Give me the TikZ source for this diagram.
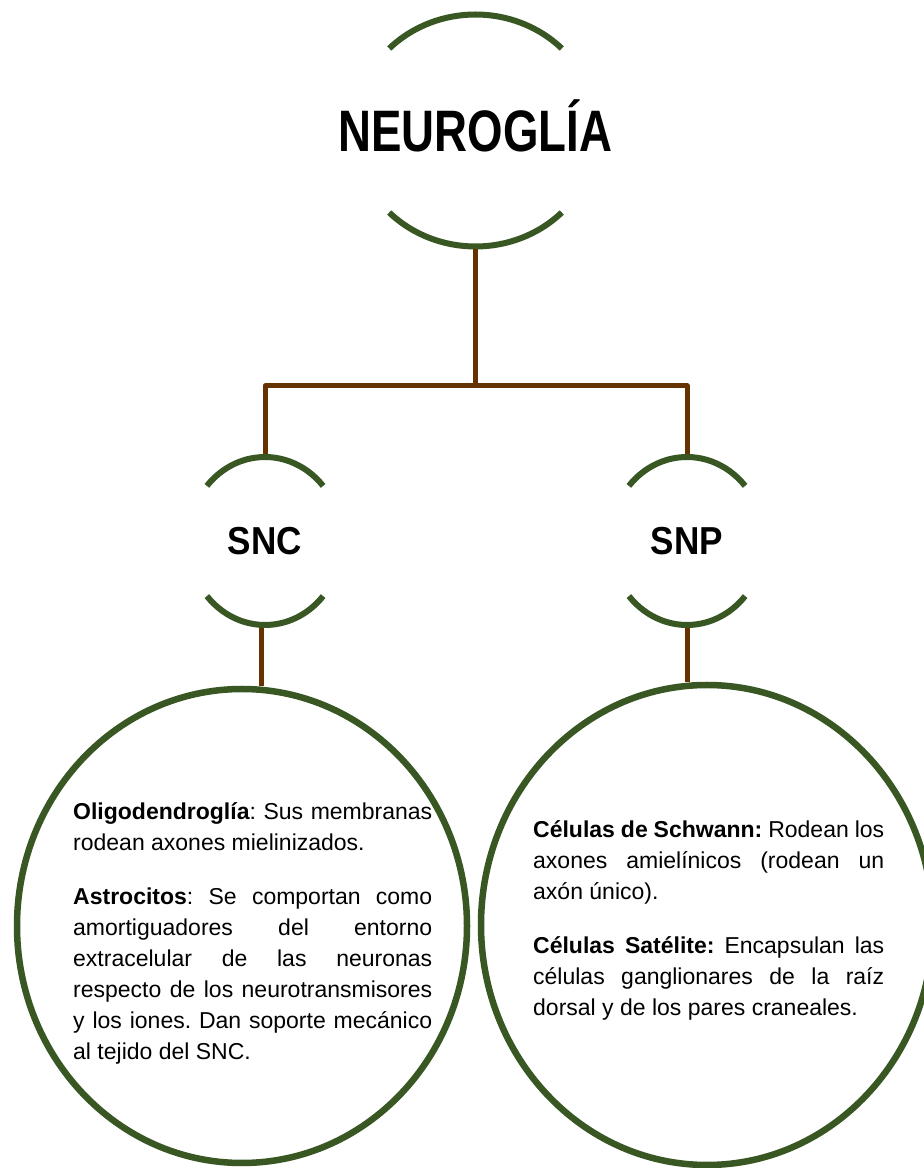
\documentclass[tikz,border=0pt]{standalone}
\usepackage{fontspec}
\setmainfont{Liberation Sans}
\usepackage{graphicx}
\usetikzlibrary{shapes.geometric}
\definecolor{arcgreen}{HTML}{385723}
\definecolor{linkbrown}{HTML}{663300}
\newcommand{\desctext}[1]{\parbox[t]{#1}}
\begin{document}
\begin{tikzpicture}[x=1pt,y=1pt,
  greenarc/.style={draw=arcgreen,line width=6pt},
  bigoval/.style={draw=arcgreen,line width=6.5pt,ellipse,inner sep=0pt},
  link/.style={draw=linkbrown,line width=5pt,line join=round},
  hub/.style={ellipse,inner sep=0pt,outer sep=3pt,draw=none},
  desc/.style={inner sep=0pt,anchor=base west}]
\useasboundingbox (0,0) rectangle (924,1168);
\clip (0,0) rectangle (924,1168);
\fill[white] (0,0) rectangle (924,1168);

% hubs
\node[hub,minimum width=244pt,minimum height=232pt,text height=42pt,text depth=0pt] (neuro) at (475.5,1037.5)
  {\scalebox{0.78}[1]{\fontsize{58.5}{60}\selectfont\bfseries NEUROGLÍA}};
\node[hub,minimum width=154pt,minimum height=168pt,text height=28pt,text depth=0pt] (snc) at (265,627)
  {\scalebox{0.9}[1]{\fontsize{39}{40}\selectfont\bfseries SNC}};
\node[hub,minimum width=154pt,minimum height=168pt,text height=28pt,text depth=0pt] (snp) at (687,627)
  {\scalebox{0.9}[1]{\fontsize{39}{40}\selectfont\bfseries SNP}};

% arcs
\draw[greenarc] (neuro.center) ++(86.27,82.02) arc[start angle=45,end angle=135,x radius=122,y radius=116];
\draw[greenarc] (neuro.center) ++(-86.27,-82.02) arc[start angle=225,end angle=315,x radius=122,y radius=116];
\draw[greenarc] (snc.center) ++(58.1,55.1) arc[start angle=41,end angle=139,x radius=77,y radius=84];
\draw[greenarc] (snc.center) ++(-58.1,-55.1) arc[start angle=221,end angle=319,x radius=77,y radius=84];
\draw[greenarc] (snp.center) ++(58.1,55.1) arc[start angle=41,end angle=139,x radius=77,y radius=84];
\draw[greenarc] (snp.center) ++(-58.1,-55.1) arc[start angle=221,end angle=319,x radius=77,y radius=84];

% big ovals
\node[bigoval,minimum width=450pt,minimum height=474pt] (cns) at (242,242) {};
\node[bigoval,minimum width=452pt,minimum height=480pt] (pns) at (707,243) {};

% connectors
\coordinate (bar) at (0,782);
\draw[link] (neuro.south) -- (neuro.south |- bar);
\draw[link] (snc.north) -- (snc.north |- bar) -- (snp.north |- bar) -- (snp.north);
\draw[link] ([xshift=-4pt]snc.south) -- ([xshift=-4pt]snc.south |- cns.north);
\draw[link] (snp.south) -- (snp.south |- pns.north);

% texts
\node[desc] (cnstext) at (73,348) {\desctext{359pt}{\fontsize{23}{31}\selectfont\frenchspacing
  \setlength{\parindent}{0pt}\setlength{\parskip}{23pt}\tolerance=10000 \hbadness=10000 \hyphenpenalty=10000
  \textbf{Oligodendroglía}: Sus membranas\linebreak rodean axones mielinizados.\par
  \textbf{Astrocitos}: Se comportan como\linebreak amortiguadores del entorno\linebreak extracelular de las neuronas\linebreak respecto de los neurotransmisores\linebreak y los iones. Dan soporte mecánico\linebreak al tejido del SNC.}};
\node[desc] (pnstext) at (533,330) {\desctext{351pt}{\fontsize{23}{31}\selectfont\frenchspacing
  \setlength{\parindent}{0pt}\setlength{\parskip}{23pt}\tolerance=10000 \hbadness=10000 \hyphenpenalty=10000
  \textbf{Células de Schwann:} Rodean los\linebreak axones amielínicos (rodean un\linebreak axón único).\par
  \textbf{Células Satélite:} Encapsulan las\linebreak células ganglionares de la raíz\linebreak dorsal y de los pares craneales.}};
\end{tikzpicture}
\end{document}
